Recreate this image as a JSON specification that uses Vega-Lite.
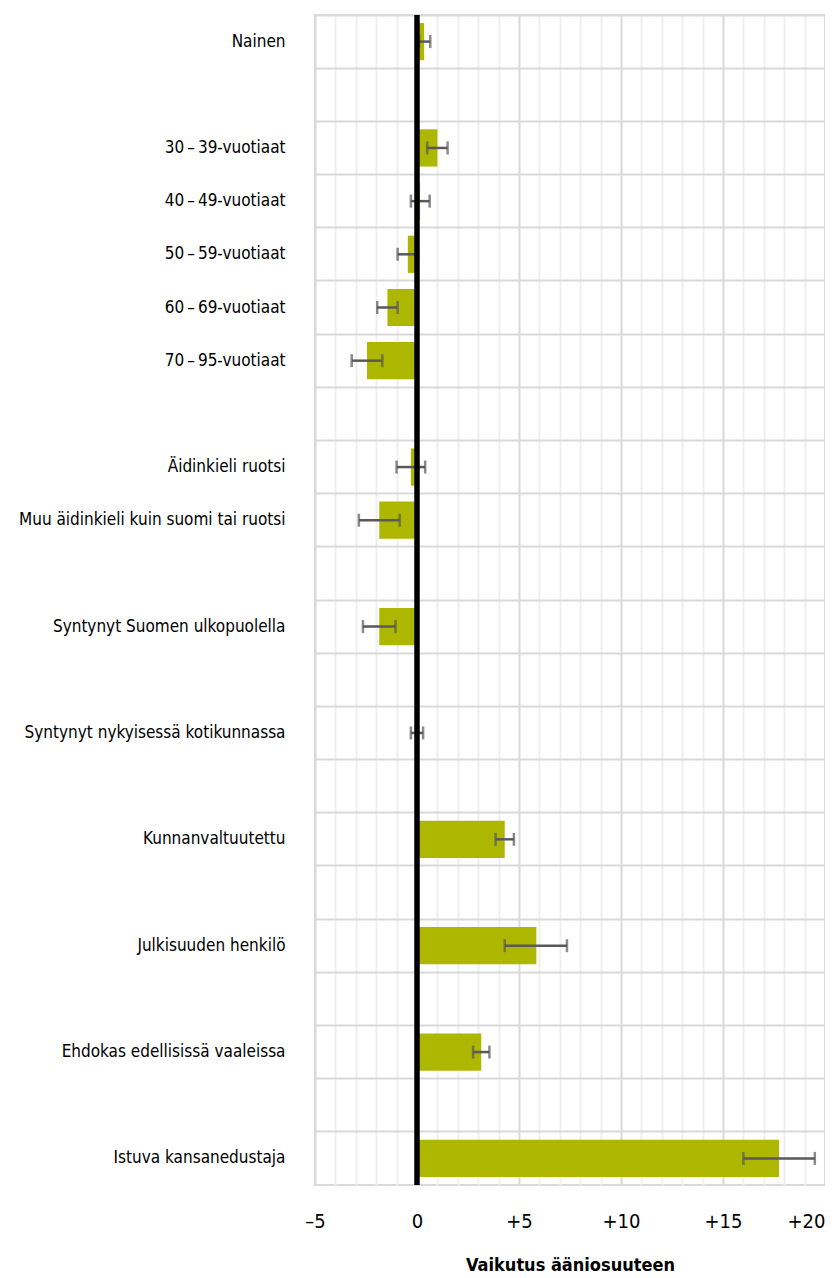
{
  "$schema": "https://vega.github.io/schema/vega-lite/v6.json",
  "width": 510,
  "height": 1170,
  "padding": {"left": 10, "top": 12, "right": 0, "bottom": 0},
  "autosize": {"type": "pad"},
  "config": {
    "view": {"stroke": "#d9d9d9", "strokeWidth": 2},
    "font": "Liberation Sans Narrow, DejaVu Sans Condensed, sans-serif",
    "axisX": {"labelOverlap": false, "labelFlush": false, "labelBound": false}
  },
  "layer": [
    {
      "data": {"values": [
        {"cat": "Nainen", "value": 0.35, "low": 0.1, "high": 0.65},
        {"cat": "_1"},
        {"cat": "30\u2009–\u200939-vuotiaat", "value": 1.0, "low": 0.5, "high": 1.5},
        {"cat": "40\u2009–\u200949-vuotiaat", "value": 0.15, "low": -0.3, "high": 0.62},
        {"cat": "50\u2009–\u200959-vuotiaat", "value": -0.45, "low": -0.95, "high": 0.05},
        {"cat": "60\u2009–\u200969-vuotiaat", "value": -1.45, "low": -1.95, "high": -0.95},
        {"cat": "70\u2009–\u200995-vuotiaat", "value": -2.45, "low": -3.2, "high": -1.7},
        {"cat": "_2"},
        {"cat": "Äidinkieli ruotsi", "value": -0.3, "low": -1.0, "high": 0.4},
        {"cat": "Muu äidinkieli kuin suomi tai ruotsi", "value": -1.85, "low": -2.85, "high": -0.85},
        {"cat": "_3"},
        {"cat": "Syntynyt Suomen ulkopuolella", "value": -1.85, "low": -2.65, "high": -1.05},
        {"cat": "_4"},
        {"cat": "Syntynyt nykyisessä kotikunnassa", "value": 0.0, "low": -0.3, "high": 0.3},
        {"cat": "_5"},
        {"cat": "Kunnanvaltuutettu", "value": 4.3, "low": 3.85, "high": 4.75},
        {"cat": "_6"},
        {"cat": "Julkisuuden henkilö", "value": 5.85, "low": 4.3, "high": 7.35},
        {"cat": "_7"},
        {"cat": "Ehdokas edellisissä vaaleissa", "value": 3.15, "low": 2.75, "high": 3.55},
        {"cat": "_8"},
        {"cat": "Istuva kansanedustaja", "value": 17.75, "low": 16.0, "high": 19.5}
      ]},
      "encoding": {
        "y": {
          "field": "cat",
          "type": "nominal",
          "sort": null,
          "scale": {
            "domain": ["Nainen", "_1", "30\u2009–\u200939-vuotiaat", "40\u2009–\u200949-vuotiaat", "50\u2009–\u200959-vuotiaat", "60\u2009–\u200969-vuotiaat", "70\u2009–\u200995-vuotiaat", "_2", "Äidinkieli ruotsi", "Muu äidinkieli kuin suomi tai ruotsi", "_3", "Syntynyt Suomen ulkopuolella", "_4", "Syntynyt nykyisessä kotikunnassa", "_5", "Kunnanvaltuutettu", "_6", "Julkisuuden henkilö", "_7", "Ehdokas edellisissä vaaleissa", "_8", "Istuva kansanedustaja"],
            "paddingInner": 0,
            "paddingOuter": 0
          },
          "axis": {
            "title": null,
            "ticks": false,
            "domain": false,
            "labelFontSize": 17,
            "labelColor": "#000000",
            "labelPadding": 30,
            "grid": true,
            "gridColor": "#d9d9d9",
            "gridWidth": 2,
            "bandPosition": 0,
            "labelExpr": "substring(datum.label, 0, 1) === '_' ? '' : datum.label",
            "minExtent": 305,
            "maxExtent": 305,
            "labelLimit": 300
          }
        },
        "x": {
          "field": "value",
          "type": "quantitative",
          "scale": {"domain": [-5, 20], "nice": false, "zero": false},
          "axis": {
            "values": [-5, -4, -3, -2, -1, 0, 1, 2, 3, 4, 5, 6, 7, 8, 9, 10, 11, 12, 13, 14, 15, 16, 17, 18, 19, 20],
            "labelExpr": "datum.value % 5 !== 0 ? '' : (datum.value > 0 ? '+' + datum.value : (datum.value < 0 ? '–' + abs(datum.value) : '0'))",
            "grid": true,
            "gridColor": {"condition": {"test": "datum.value % 5 === 0", "value": "#d9d9d9"}, "value": "#efefef"},
            "gridWidth": 2,
            "ticks": false,
            "domain": false,
            "labelPadding": 26,
            "labelFontSize": 20,
            "labelColor": "#000000",
            "labelAlign": {"condition": {"test": "datum.value === 20", "value": "right"}, "value": "center"},
            "labelFlush": false,
            "labelOverlap": false,
            "labelBound": false,
            "title": "Vaikutus ääniosuuteen",
            "titleFontSize": 18,
            "titleFontWeight": "bold",
            "titleColor": "#000000",
            "titlePadding": 25
          }
        }
      },
      "layer": [
        {
          "mark": {"type": "bar", "color": "#aeb700", "height": {"band": 0.7}}
        },
        {
          "mark": {"type": "rule", "color": "#595959", "strokeWidth": 2.5},
          "encoding": {
            "x": {"field": "low", "type": "quantitative"},
            "x2": {"field": "high"}
          }
        },
        {
          "mark": {"type": "tick", "color": "#595959", "thickness": 2.5, "size": 13},
          "encoding": {"x": {"field": "low", "type": "quantitative"}}
        },
        {
          "mark": {"type": "tick", "color": "#595959", "thickness": 2.5, "size": 13},
          "encoding": {"x": {"field": "high", "type": "quantitative"}}
        },
        {
          "transform": [{"filter": "datum.cat === 'Nainen'"}],
          "mark": {"type": "rule", "color": "#000000", "strokeWidth": 5.5},
          "encoding": {"x": {"datum": 0}, "y": null}
        }
      ]
    }
  ]
}
